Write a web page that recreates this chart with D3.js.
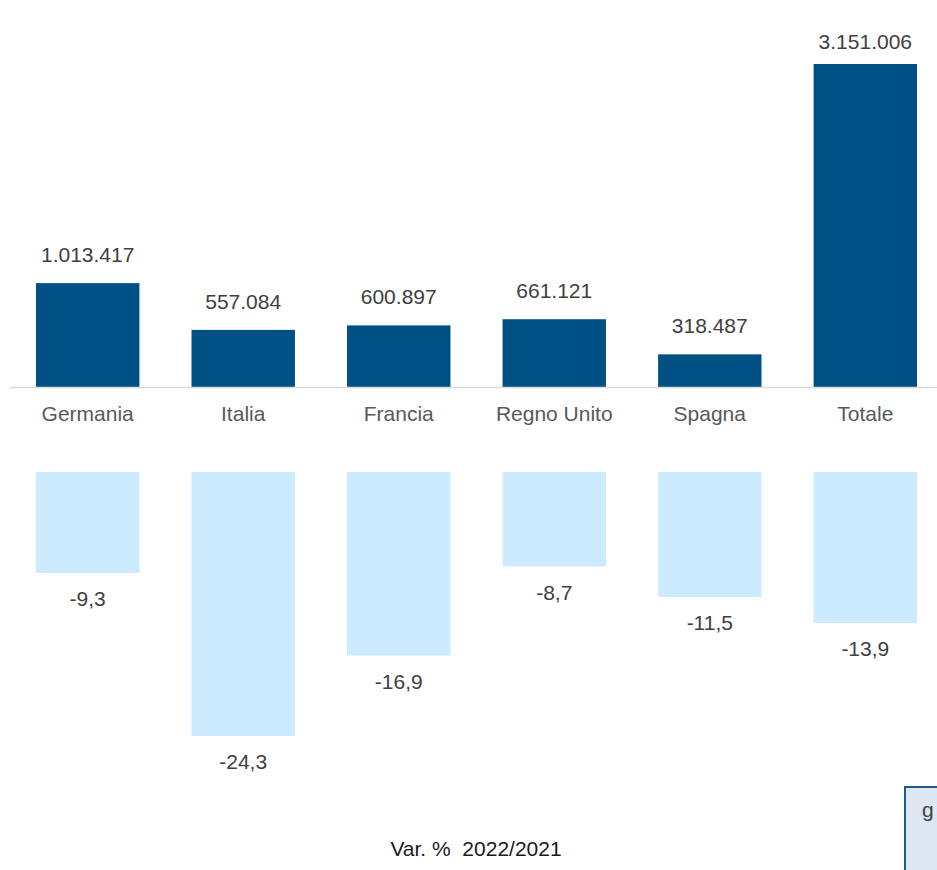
<!DOCTYPE html>
<html>
<head>
<meta charset="utf-8">
<script src="https://cdn.jsdelivr.net/npm/d3@7"></script>
<style>
  body { margin: 0; background: #fff; }
  svg { display: block; font-family: "Liberation Sans", Arial, sans-serif; }
</style>
</head>
<body>
<div id="chart"></div>
<script>
// Data
const categories = ['Germania', 'Italia', 'Francia', 'Regno Unito', 'Spagna', 'Totale'];
const values = [1013417, 557084, 600897, 661121, 318487, 3151006];
const variations = [-9.3, -24.3, -16.9, -8.7, -11.5, -13.9];
const bottomTitle = 'Var. %  2022/2021';

const width = 937;
const height = 870;

const svg = d3.select('#chart')
    .append('svg')
    .attr('width', width)
    .attr('height', height);

const x = d3.scaleBand()
    .domain(categories)
    .range([10, 943])
    .paddingInner(0.335)
    .paddingOuter(0.167);

// top chart: volumes
const yTop = d3.scaleLinear()
    .domain([0, 3151006])
    .range([387, 64]);

const locale = d3.formatLocale({ decimal: ',', thousands: '.', grouping: [3], currency: ['', '€'], minus: '-' });
const fmtInt = locale.format(',d');
const fmtDec = locale.format('.1f');

const topG = svg.append('g');

topG.selectAll('.bar-top')
    .data(values)
    .enter()
    .append('rect')
    .attr('class', 'bar-top')
    .attr('x', (d, i) => x(categories[i]))
    .attr('y', d => yTop(d))
    .attr('width', x.bandwidth())
    .attr('height', d => yTop(0) - yTop(d))
    .attr('fill', '#005183');

topG.append('line')
    .attr('x1', 10)
    .attr('x2', width)
    .attr('y1', yTop(0) + 0.5)
    .attr('y2', yTop(0) + 0.5)
    .attr('stroke', '#d9d9d9')
    .attr('stroke-width', 1.5);

topG.selectAll('.lab-top')
    .data(values)
    .enter()
    .append('text')
    .attr('class', 'lab-top')
    .attr('x', (d, i) => x(categories[i]) + x.bandwidth() / 2)
    .attr('y', d => Math.max(yTop(d) - 21, 49))
    .attr('text-anchor', 'middle')
    .style('font-size', '21px')
    .style('fill', '#404040')
    .text(d => fmtInt(d));

topG.selectAll('.cat')
    .data(categories)
    .enter()
    .append('text')
    .attr('class', 'cat')
    .attr('x', d => x(d) + x.bandwidth() / 2)
    .attr('y', 421)
    .attr('text-anchor', 'middle')
    .style('font-size', '21px')
    .style('fill', '#595959')
    .text(d => d);

// bottom chart: % variation
const yBot = d3.scaleLinear()
    .domain([0, -24.3])
    .range([472, 736]);

const botG = svg.append('g');

botG.selectAll('.bar-bot')
    .data(variations)
    .enter()
    .append('rect')
    .attr('class', 'bar-bot')
    .attr('x', (d, i) => x(categories[i]))
    .attr('y', yBot(0))
    .attr('width', x.bandwidth())
    .attr('height', d => yBot(d) - yBot(0))
    .attr('fill', '#cdebff');

botG.selectAll('.lab-bot')
    .data(variations)
    .enter()
    .append('text')
    .attr('class', 'lab-bot')
    .attr('x', (d, i) => x(categories[i]) + x.bandwidth() / 2)
    .attr('y', d => yBot(d) + 33)
    .attr('text-anchor', 'middle')
    .style('font-size', '21px')
    .style('fill', '#404040')
    .text(d => fmtDec(d));

svg.append('text')
    .attr('x', 476)
    .attr('y', 856)
    .attr('text-anchor', 'middle')
    .style('font-size', '21px')
    .style('fill', '#1a1a1a')
    .style('white-space', 'pre')
    .text(bottomTitle);

// clipped note box at bottom right
svg.append('rect')
    .attr('x', 905)
    .attr('y', 787)
    .attr('width', 60)
    .attr('height', 100)
    .attr('fill', '#dde7f2')
    .attr('stroke', '#1f5a8c')
    .attr('stroke-width', 2);

svg.append('text')
    .attr('x', 922)
    .attr('y', 817)
    .style('font-size', '21px')
    .style('fill', '#404040')
    .text('g');
</script>
</body>
</html>
